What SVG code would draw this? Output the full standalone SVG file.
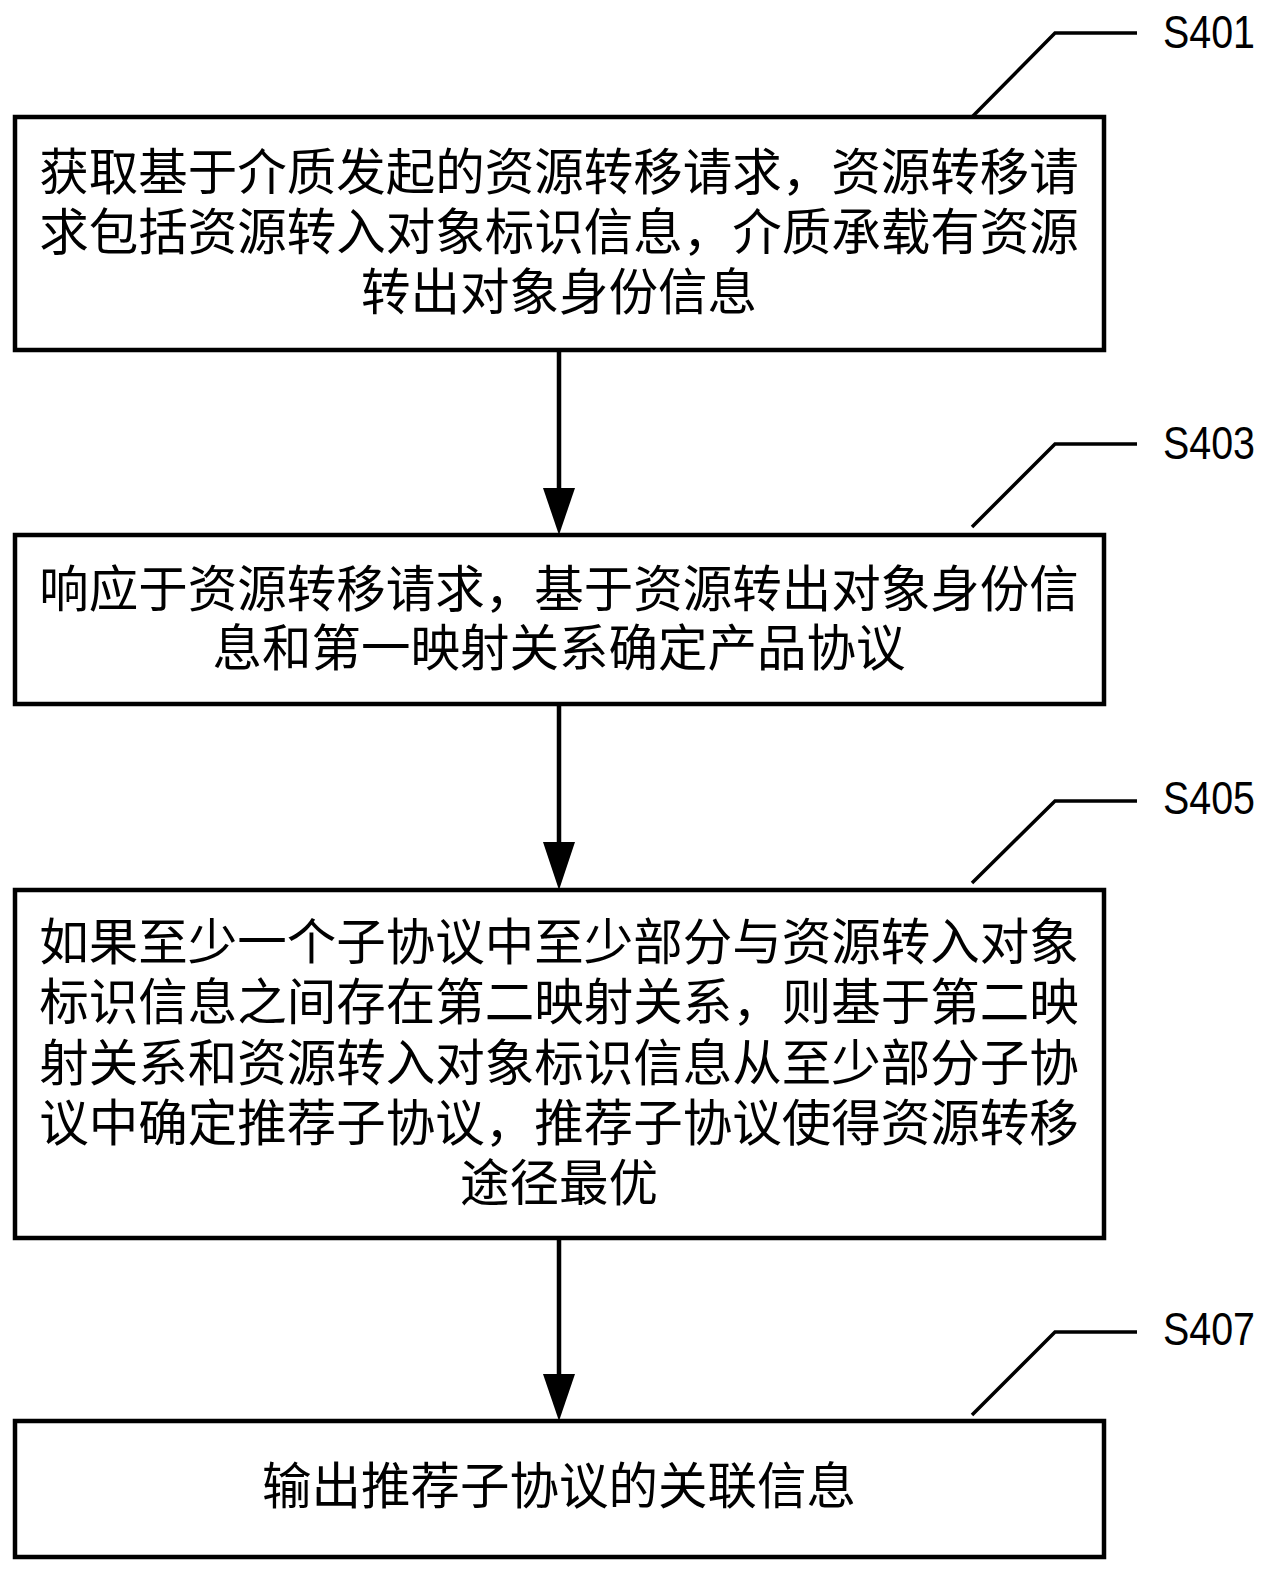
<svg xmlns="http://www.w3.org/2000/svg" width="1275" height="1573" viewBox="0 0 1275 1573">
<style>
.box{fill:#fff;stroke:#000;stroke-width:4.5}
.t{font-family:"Noto Sans CJK SC","Noto Sans",sans-serif;font-size:49.5px;fill:#000;text-anchor:middle}
.lab{font-family:"Liberation Sans",Arial,sans-serif;font-size:46px;fill:#000}
.lead{fill:none;stroke:#000;stroke-width:3.5}
.conn{stroke:#000;stroke-width:4.5;fill:none}
.head{fill:#000}
</style>
<rect width="1275" height="1573" fill="#fff"/>
<g id="S401">
<rect class="box" x="15" y="117" width="1089" height="233"/>
<text class="t" x="559" y="190">获取基于介质发起的资源转移请求，资源转移请</text>
<text class="t" x="559" y="250">求包括资源转入对象标识信息，介质承载有资源</text>
<text class="t" x="559" y="310">转出对象身份信息</text>
<polyline class="lead" points="972,117 1055,33 1137,33"/>
<text class="lab" x="1163" y="48" textLength="92" lengthAdjust="spacingAndGlyphs">S401</text>
</g>
<g id="S403">
<rect class="box" x="15" y="535" width="1089" height="169"/>
<text class="t" x="559" y="607">响应于资源转移请求，基于资源转出对象身份信</text>
<text class="t" x="559" y="666">息和第一映射关系确定产品协议</text>
<polyline class="lead" points="972,527 1055,444 1137,444"/>
<text class="lab" x="1163" y="459" textLength="92" lengthAdjust="spacingAndGlyphs">S403</text>
</g>
<g id="S405">
<rect class="box" x="15" y="890" width="1089" height="348"/>
<text class="t" x="559" y="960">如果至少一个子协议中至少部分与资源转入对象</text>
<text class="t" x="559" y="1020">标识信息之间存在第二映射关系，则基于第二映</text>
<text class="t" x="559" y="1081">射关系和资源转入对象标识信息从至少部分子协</text>
<text class="t" x="559" y="1141">议中确定推荐子协议，推荐子协议使得资源转移</text>
<text class="t" x="559" y="1201">途径最优</text>
<polyline class="lead" points="972,883 1055,801 1137,801"/>
<text class="lab" x="1163" y="814" textLength="92" lengthAdjust="spacingAndGlyphs">S405</text>
</g>
<g id="S407">
<rect class="box" x="15" y="1421" width="1089" height="136"/>
<text class="t" x="559" y="1504">输出推荐子协议的关联信息</text>
<polyline class="lead" points="972,1415 1055,1332 1137,1332"/>
<text class="lab" x="1163" y="1345" textLength="92" lengthAdjust="spacingAndGlyphs">S407</text>
</g>
<g id="connectors">
<line class="conn" x1="559" y1="350" x2="559" y2="492"/>
<polygon class="head" points="543,488 575,488 559,535"/>
<line class="conn" x1="559" y1="704" x2="559" y2="846"/>
<polygon class="head" points="543,842 575,842 559,890"/>
<line class="conn" x1="559" y1="1238" x2="559" y2="1378"/>
<polygon class="head" points="543,1374 575,1374 559,1421"/>
</g>
</svg>
